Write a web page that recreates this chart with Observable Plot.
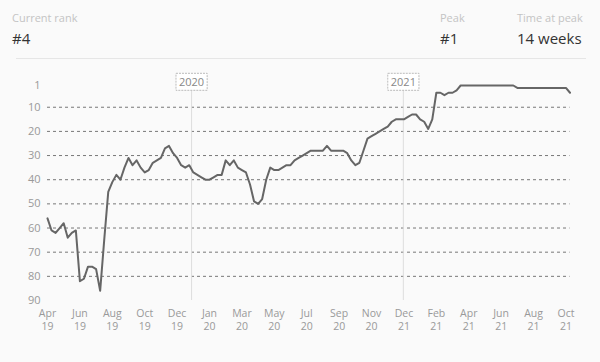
<!DOCTYPE html>
<html><head><meta charset="utf-8">
<script src="https://cdn.jsdelivr.net/npm/d3@7"></script>
<script src="https://cdn.jsdelivr.net/npm/@observablehq/plot@0.6"></script>
<style>
body{margin:0;background:#fafafa;font-family:"Open Sans",sans-serif;}
#wrap{position:relative;width:600px;height:362px;overflow:hidden;}
.stat{position:absolute;top:10px;}
.lab{font-size:11px;color:#c4c4c4;line-height:15px;}
.val{font-size:15px;color:#333;line-height:20px;margin-top:3px;}
.rule{position:absolute;left:16px;width:570px;top:58px;border-top:1px solid #e6e6e6;}
#chart{position:absolute;top:60px;left:0;}
</style></head><body>
<div id="wrap">
  <div class="stat" style="left:12px"><div class="lab">Current rank</div><div class="val">#4</div></div>
  <div class="stat" style="left:440px"><div class="lab">Peak</div><div class="val">#1</div></div>
  <div class="stat" style="left:517px"><div class="lab">Time at peak</div><div class="val">14 weeks</div></div>
  <div class="rule"></div>
  <div id="chart"></div>
</div>
<script>
const startDate = "2019-04-27";
const ranks = [
  56,61,62,60,58,64,62,61,82,81,
  76,76,77,86,65,45,41,38,40,35,
  31,34,32,35,37,36,33,32,31,27,
  26,29,31,34,35,34,37,38,39,40,
  40,39,38,38,32,34,32,35,36,37,
  42,49,50,48,40,35,36,36,35,34,
  34,32,31,30,29,28,28,28,28,26,
  28,28,28,28,29,32,34,33,28,23,
  22,21,20,19,18,16,15,15,15,14,
  13,13,15,16,19,15,4,4,5,4,
  4,3,1,1,1,1,1,1,1,1,
  1,1,1,1,1,1,2,2,2,2,
  2,2,2,2,2,2,2,2,2,4
];
const tickLabels = ["Apr\n19","Jun\n19","Aug\n19","Oct\n19","Dec\n19","Jan\n20","Mar\n20","May\n20","Jul\n20","Sep\n20","Nov\n20","Dec\n21","Feb\n21","Apr\n21","Jun\n21","Aug\n21","Oct\n21"];
const yearMarks = [{date:"2020-01-01", label:"2020"},{date:"2021-01-01", label:"2021"}];
const yTicks = [1,10,20,30,40,50,60,70,80,90];
const gridTicks = [10,20,30,40,50,60,70,80];

const t0 = new Date(startDate);
const weeks = ranks.map((r,i)=>({date: d3.utcDay.offset(t0, 7*i), rank: r}));
const tickDates = tickLabels.map((l,i)=>weeks[i*8].date);
const years = yearMarks.map(d=>({date:new Date(d.date), label:d.label}));

const chart = Plot.plot({
  width: 600, height: 302,
  marginLeft: 47, marginRight: 30.5, marginTop: 25, marginBottom: 62,
  style: {background: "transparent", fontFamily: "'Open Sans', sans-serif"},
  x: {type: "utc", domain: [weeks[0].date, weeks[weeks.length-1].date], axis: null},
  y: {domain: [1, 90], reverse: true, axis: null},
  marks: [
    Plot.ruleY(gridTicks, {stroke: "#777", strokeDasharray: "3,3", strokeWidth: 1}),
    Plot.ruleX(years, {x: "date", y1: 1, y2: 90, stroke: "#ddd", strokeWidth: 1}),
    Plot.line(weeks, {x: "date", y: "rank", stroke: "#666", strokeWidth: 2}),
    Plot.text(yTicks, {y: d=>d, text: d=>String(d), frameAnchor: "left", textAnchor: "end", dx: -7, fill: "#999", fontSize: 11}),
    Plot.text(tickDates, {x: d=>d, text: (d,i)=>tickLabels[i], frameAnchor: "bottom", lineAnchor: "top", dy: 8, lineHeight: 1.2, fill: "#999", fontSize: 10.5}),
    Plot.text(years, {x: "date", text: "label", frameAnchor: "top", dy: -7, fill: "#888", fontSize: 11, className: "yearlab"})
  ]
});
document.getElementById("chart").appendChild(chart);
// boxes behind the year labels
chart.querySelectorAll(".yearlab text").forEach(t=>{
  const b = t.getBBox();
  const r = document.createElementNS("http://www.w3.org/2000/svg","rect");
  r.setAttribute("x", b.x-3); r.setAttribute("y", b.y-1);
  r.setAttribute("width", b.width+6); r.setAttribute("height", b.height+2);
  r.setAttribute("fill", "#fff"); r.setAttribute("stroke", "#bbb");
  r.setAttribute("stroke-dasharray", "2,1");
  r.setAttribute("transform", t.getAttribute("transform") || "");
  t.parentNode.insertBefore(r, t);
});
</script>
</body></html>
